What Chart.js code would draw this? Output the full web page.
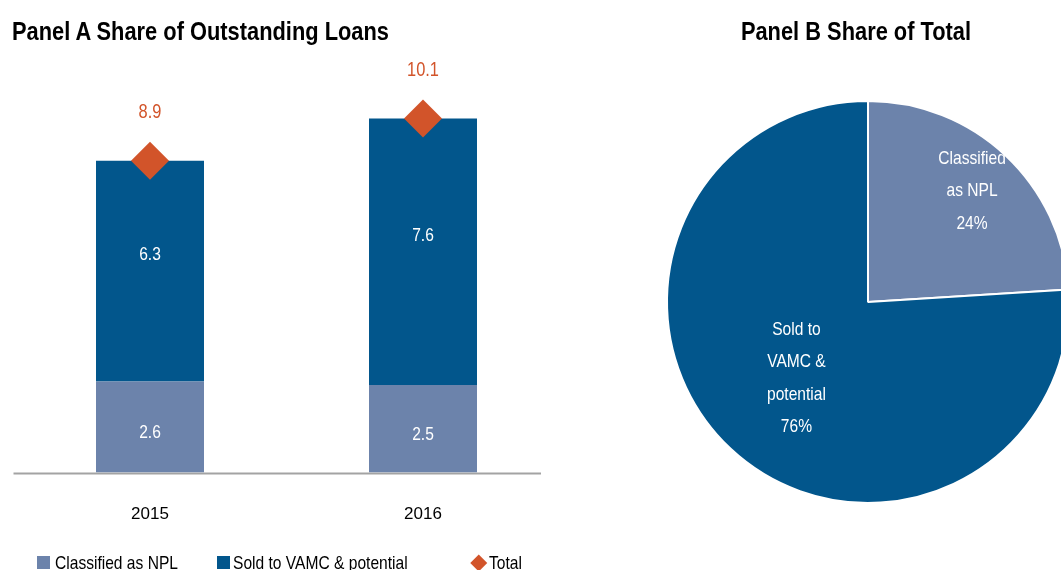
<!DOCTYPE html>
<html>
<head>
<meta charset="utf-8">
<script src="https://cdn.jsdelivr.net/npm/chart.js@4.4.1/dist/chart.umd.min.js"></script>
<style>
  html, body { margin:0; padding:0; width:1061px; height:570px; overflow:hidden; background:#fff; }
  body { position:relative; font-family:"Liberation Sans Narrow","Liberation Sans",Arial,sans-serif; }
  canvas { position:absolute; top:0; }
  #barChart { left:0; }
  #pieChart { left:640px; }
  .title { position:absolute; top:18px; font-weight:bold; font-size:26px; line-height:26px; color:#000; white-space:nowrap; }
  #titleA { left:12px; transform:scaleX(0.84); transform-origin:left center; }
  #titleB { left:555.5px; width:600px; text-align:center; transform:scaleX(0.84); transform-origin:center center; }
  .leg { position:absolute; top:553px; font-size:19px; line-height:19px; color:#000; white-space:nowrap; transform:scaleX(0.82); transform-origin:left center; }
  .sw { position:absolute; top:556px; width:13px; height:13px; }
  .dia { position:absolute; width:11.5px; height:11.5px; transform:rotate(45deg); }
</style>
</head>
<body>
<canvas id="barChart" width="580" height="557"></canvas>
<canvas id="pieChart" width="460" height="570"></canvas>
<div class="title" id="titleA">Panel A Share of Outstanding Loans</div>
<div class="title" id="titleB">Panel B Share of Total</div>
<div id="legend"></div>
<script>
// ---- data ----
const categories = ['2015', '2016'];
const nplValues = [2.6, 2.5];
const soldValues = [6.3, 7.6];
const totalValues = [8.9, 10.1];
const seriesNames = ['Classified as NPL', 'Sold to VAMC & potential', 'Total'];
const pieCategories = ['Classified as NPL', 'Sold to VAMC & potential'];
const pieShares = [24, 76];
const pieLabelLines = [['Classified', 'as NPL'], ['Sold to', 'VAMC &', 'potential']];

// ---- style ----
const FONT = '"Liberation Sans Narrow","Liberation Sans",Arial,sans-serif';
const NARROW = 0.82;
const NPL = '#6C83AB';
const DARK = '#02568C';
const ORANGE = '#D2542A';
const NPL_LABEL_SHIFT = 6;
const DARK_LABEL_SHIFT = -16;
const TOTAL_LABEL_SHIFT = -48;
const PIE_LABEL_RADIUS = [0.756, 0.52];
const PIE_LINE_GAP = 32.5;

function narrowText(ctx, txt, x, y) {
  ctx.save();
  ctx.translate(x, y);
  ctx.scale(NARROW, 1);
  ctx.fillText(txt, 0, 0);
  ctx.restore();
}

// legend (HTML text)
(function buildLegend() {
  const leg = document.getElementById('legend');
  const items = [
    {sw: NPL, swLeft: 37, textLeft: 55, text: seriesNames[0]},
    {sw: DARK, swLeft: 217, textLeft: 233, text: seriesNames[1]},
    {dia: ORANGE, cx: 479, textLeft: 489, text: seriesNames[2]}
  ];
  items.forEach(it => {
    if (it.sw) {
      const s = document.createElement('div');
      s.className = 'sw'; s.style.left = it.swLeft + 'px'; s.style.background = it.sw;
      leg.appendChild(s);
    } else {
      const d = document.createElement('div');
      d.className = 'dia'; d.style.left = (it.cx - 5.75) + 'px'; d.style.top = (562.5 - 5.75) + 'px'; d.style.background = it.dia;
      leg.appendChild(d);
    }
    const t = document.createElement('div');
    t.className = 'leg'; t.style.left = it.textLeft + 'px'; t.textContent = it.text;
    leg.appendChild(t);
  });
})();

const baselinePlugin = {
  id: 'baseline',
  beforeDatasetsDraw(chart) {
    const {ctx, chartArea} = chart;
    const y = chart.scales.y.getPixelForValue(0) + 1;
    ctx.save();
    ctx.strokeStyle = '#A3A3A3';
    ctx.lineWidth = 2;
    ctx.beginPath();
    ctx.moveTo(chartArea.left, y);
    ctx.lineTo(chartArea.right - 18.5, y);
    ctx.stroke();
    ctx.restore();
  }
};

const barLabelPlugin = {
  id: 'barLabels',
  afterDatasetsDraw(chart) {
    const {ctx} = chart;
    ctx.save();
    ctx.textAlign = 'center';
    ctx.textBaseline = 'middle';
    chart.data.datasets.forEach((ds, di) => {
      const meta = chart.getDatasetMeta(di);
      meta.data.forEach((el, i) => {
        const v = ds.data[i];
        const txt = v.toFixed(1);
        if (meta.type === 'bar') {
          const p = el.getProps(['x', 'y', 'base'], true);
          const shift = ds.stackPosition === 1 ? DARK_LABEL_SHIFT : NPL_LABEL_SHIFT;
          ctx.font = '19px ' + FONT;
          ctx.fillStyle = '#fff';
          narrowText(ctx, txt, p.x, (p.y + p.base) / 2 + shift);
        } else {
          const p = el.getProps(['x', 'y'], true);
          ctx.font = '20px ' + FONT;
          ctx.fillStyle = ORANGE;
          narrowText(ctx, txt, p.x, p.y + TOTAL_LABEL_SHIFT);
        }
      });
    });
    ctx.restore();
  }
};

new Chart(document.getElementById('barChart'), {
  type: 'bar',
  data: {
    labels: categories,
    datasets: [
      {
        type: 'line', label: seriesNames[2], data: totalValues, stack: 'total', order: 0,
        showLine: false, pointStyle: 'rectRot', pointRadius: 19, pointHoverRadius: 19,
        pointBackgroundColor: ORANGE, pointBorderColor: ORANGE, pointBorderWidth: 0,
        backgroundColor: ORANGE, borderColor: ORANGE
      },
      {
        label: seriesNames[0], data: nplValues, stack: 'bars', order: 1, stackPosition: 0,
        backgroundColor: NPL, barPercentage: 0.3956, categoryPercentage: 1
      },
      {
        label: seriesNames[1], data: soldValues, stack: 'bars', order: 1, stackPosition: 1,
        backgroundColor: DARK, barPercentage: 0.3956, categoryPercentage: 1
      }
    ]
  },
  options: {
    responsive: false,
    animation: false,
    layout: { autoPadding: false, padding: { left: 13.5, right: 20.5, top: 52, bottom: 0 } },
    plugins: { legend: { display: false }, tooltip: { enabled: false } },
    scales: {
      x: {
        stacked: true, offset: true,
        grid: { display: false, drawTicks: false },
        border: { display: false },
        ticks: { color: '#000', font: { family: FONT, size: 17 }, padding: 32 }
      },
      y: { stacked: true, display: false, min: 0, max: 12 }
    }
  },
  plugins: [baselinePlugin, barLabelPlugin]
});

const pieLabelPlugin = {
  id: 'pieLabels',
  afterDatasetsDraw(chart) {
    const {ctx} = chart;
    const meta = chart.getDatasetMeta(0);
    ctx.save();
    ctx.font = '19px ' + FONT;
    ctx.fillStyle = '#fff';
    ctx.textAlign = 'center';
    ctx.textBaseline = 'middle';
    meta.data.forEach((arc, i) => {
      const p = arc.getProps(['x', 'y', 'startAngle', 'endAngle', 'outerRadius'], true);
      const mid = (p.startAngle + p.endAngle) / 2;
      const r = p.outerRadius * PIE_LABEL_RADIUS[i];
      const cx = p.x + Math.cos(mid) * r;
      const cy = p.y + Math.sin(mid) * r;
      const lines = pieLabelLines[i].concat([pieShares[i] + '%']);
      const y0 = cy - (lines.length - 1) / 2 * PIE_LINE_GAP;
      lines.forEach((ln, k) => narrowText(ctx, ln, cx, y0 + k * PIE_LINE_GAP));
    });
    ctx.restore();
  }
};

new Chart(document.getElementById('pieChart'), {
  type: 'pie',
  data: {
    labels: pieCategories,
    datasets: [{
      data: pieShares,
      backgroundColor: [NPL, DARK],
      borderColor: '#fff',
      borderWidth: 2,
      hoverOffset: 0
    }]
  },
  options: {
    responsive: false,
    animation: false,
    radius: 201,
    layout: { padding: { left: 0, right: 4, top: 34, bottom: 0 } },
    plugins: { legend: { display: false }, tooltip: { enabled: false } }
  },
  plugins: [pieLabelPlugin]
});
</script>
</body>
</html>
